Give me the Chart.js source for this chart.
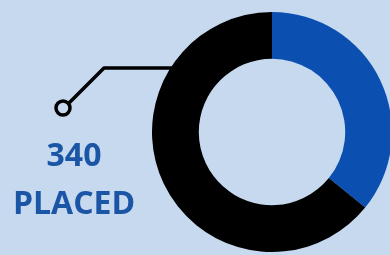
<!DOCTYPE html>
<html>
<head>
<meta charset="utf-8">
<script src="https://cdn.jsdelivr.net/npm/chart.js@4/dist/chart.umd.min.js"></script>
<style>
  html, body { margin: 0; padding: 0; background: #c6d9ee; overflow: hidden; }
  #wrap { position: relative; width: 400px; height: 255px; }
  .lbl {
    position: absolute; left: 0; width: 148px; text-align: center;
    font-family: "Open Sans", sans-serif; font-weight: 700; color: #1a55a6;
    font-size: 32px; line-height: 32px;
  }
</style>
</head>
<body>
<div id="wrap">
  <canvas id="myChart" width="400" height="255"></canvas>
  <div class="lbl" id="num" style="top:138px">340</div>
  <div class="lbl" id="txt" style="top:186px">PLACED</div>
</div>
<script>
var categories = ["Other", "Placed"];
var values = [190, 340];
var colors = ["#0b4fb0", "#000000"];

// elbow line from the small circle to the ring edge
var callout = {
  id: 'callout',
  beforeDatasetsDraw: function (chart) {
    var arc = chart.getDatasetMeta(0).data[0];
    var c = chart.ctx;
    var y = 68;
    var ex = arc.x - Math.sqrt(arc.outerRadius * arc.outerRadius - (arc.y - y) * (arc.y - y)) + 4;
    c.save();
    c.strokeStyle = '#000';
    c.lineWidth = 3.5;
    c.lineJoin = 'round';
    c.beginPath();
    c.moveTo(ex, y);
    c.lineTo(104, y);
    c.lineTo(69, 103);
    c.stroke();
    c.beginPath();
    c.arc(63, 108, 7, 0, Math.PI * 2);
    c.stroke();
    c.restore();
  }
};

var ctx = document.getElementById('myChart');

var myChart = new Chart(ctx, {
  type: 'doughnut',
  data: {
    labels: categories,
    datasets: [{
      data: values,
      backgroundColor: colors,
      borderWidth: 0
    }]
  },
  options: {
    responsive: false,
    animation: false,
    cutout: '61%',
    layout: { padding: { left: 152, top: 12, right: 8, bottom: 3 } },
    plugins: {
      legend: { display: false },
      tooltip: { enabled: false }
    }
  },
  plugins: [callout]
});
</script>
</body>
</html>
